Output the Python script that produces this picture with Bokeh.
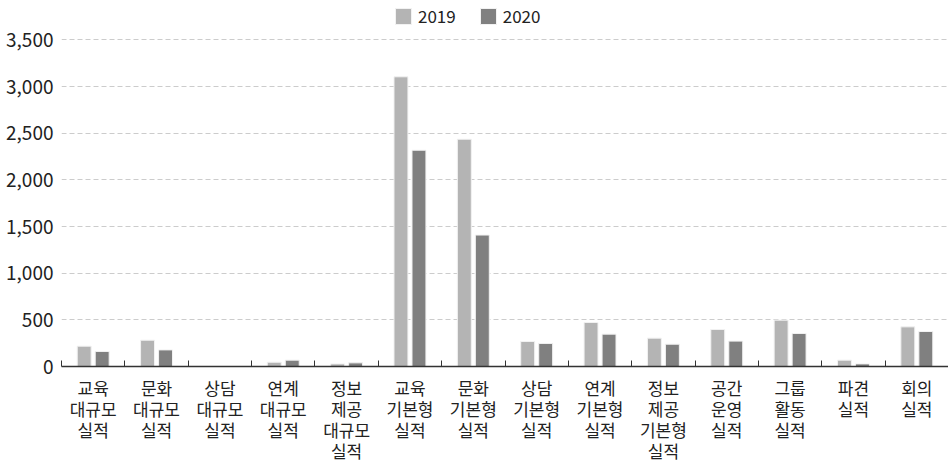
from bokeh.plotting import figure
from bokeh.models import (ColumnDataSource, Range1d, FixedTicker, NumeralTickFormatter,
                          Legend, LegendItem, LinearAxis, Grid)
from bokeh.embed import file_html
from bokeh.resources import INLINE

categories = ["교육\n대규모\n실적", "문화\n대규모\n실적", "상담\n대규모\n실적", "연계\n대규모\n실적",
              "정보\n제공\n대규모\n실적", "교육\n기본형\n실적", "문화\n기본형\n실적", "상담\n기본형\n실적",
              "연계\n기본형\n실적", "정보\n제공\n기본형\n실적", "공간\n운영\n실적", "그룹\n활동\n실적",
              "파견\n실적", "회의\n실적"]
values_2019 = [218, 282, 0, 46, 28, 3105, 2436, 268, 472, 304, 397, 497, 68, 425]
values_2020 = [161, 178, 0, 68, 39, 2318, 1409, 247, 347, 239, 272, 354, 28, 375]
series_names = ["2019", "2020"]
y_ticks = [0, 500, 1000, 1500, 2000, 2500, 3000, 3500]

FONT = "Noto Sans CJK KR"
n = len(categories)
centers = [i + 0.5 for i in range(n)]
bounds = list(range(n + 1))
OFF = 0.142

src = ColumnDataSource(dict(x19=[c - OFF for c in centers], x20=[c + OFF for c in centers],
                            v2019=values_2019, v2020=values_2020))

p = figure(frame_width=887, frame_height=362, output_backend="svg", toolbar_location=None,
           x_range=Range1d(0, n), y_range=Range1d(0, 3880),
           min_border_left=61, min_border_right=0, min_border_top=4, min_border_bottom=0,
           x_axis_type=None, y_axis_type=None)
p.outline_line_color = None

grid = Grid(dimension=1, ticker=FixedTicker(ticks=y_ticks[1:]),
            grid_line_color="#cccccc", grid_line_dash="5 3", grid_line_width=1)
p.add_layout(grid)

r1 = p.vbar(x="x19", top="v2019", width=0.22, source=src,
            fill_color="#b4b4b4", line_color="#f2f2f2", line_width=1)
r2 = p.vbar(x="x20", top="v2020", width=0.22, source=src,
            fill_color="#808080", line_color="#f2f2f2", line_width=1)

# category labels, one axis per text line; first one carries the axis line and boundary ticks
split = [c.split("\n") for c in categories]
max_lines = max(len(s) for s in split)
for k in range(max_lines):
    tick_pos = [c for c, s in zip(centers, split) if len(s) > k]
    ax = LinearAxis(ticker=FixedTicker(ticks=tick_pos, minor_ticks=bounds if k == 0 else []))
    ax.major_label_overrides = {c: s[k] for c, s in zip(centers, split) if len(s) > k}
    ax.major_tick_line_color = None
    ax.major_tick_in = 0
    ax.major_tick_out = 0
    if k == 0:
        ax.axis_line_color = "#333333"
        ax.axis_line_width = 1.5
        ax.minor_tick_line_color = "#333333"
        ax.minor_tick_in = 6
        ax.minor_tick_out = 0
        ax.major_label_standoff = 8
    else:
        ax.axis_line_color = None
        ax.minor_tick_line_color = None
        ax.minor_tick_in = 0
        ax.minor_tick_out = 0
        ax.major_label_standoff = -7
    ax.major_label_text_font = FONT
    ax.major_label_text_font_size = "17px"
    ax.major_label_text_color = "#222222"
    p.add_layout(ax, "below")

yaxis = LinearAxis(ticker=FixedTicker(ticks=y_ticks), formatter=NumeralTickFormatter(format="0,0"))
yaxis.axis_line_color = None
yaxis.major_tick_line_color = None
yaxis.minor_tick_line_color = None
yaxis.major_tick_out = 0
yaxis.major_tick_in = 0
yaxis.major_label_text_font = FONT
yaxis.major_label_text_font_size = "19px"
yaxis.major_label_text_color = "#222222"
yaxis.major_label_standoff = 8
p.add_layout(yaxis, "left")

legend = Legend(items=[LegendItem(label=series_names[0], renderers=[r1]),
                       LegendItem(label=series_names[1], renderers=[r2])],
                orientation="horizontal", location=(332, 338),
                label_text_font=FONT, label_text_font_size="17px", label_text_color="#222222",
                glyph_width=20, glyph_height=20, spacing=22, label_standoff=5,
                padding=2, margin=0, border_line_color=None, background_fill_alpha=0)
p.add_layout(legend, "center")

open("out.html", "w").write(file_html(p, INLINE))
